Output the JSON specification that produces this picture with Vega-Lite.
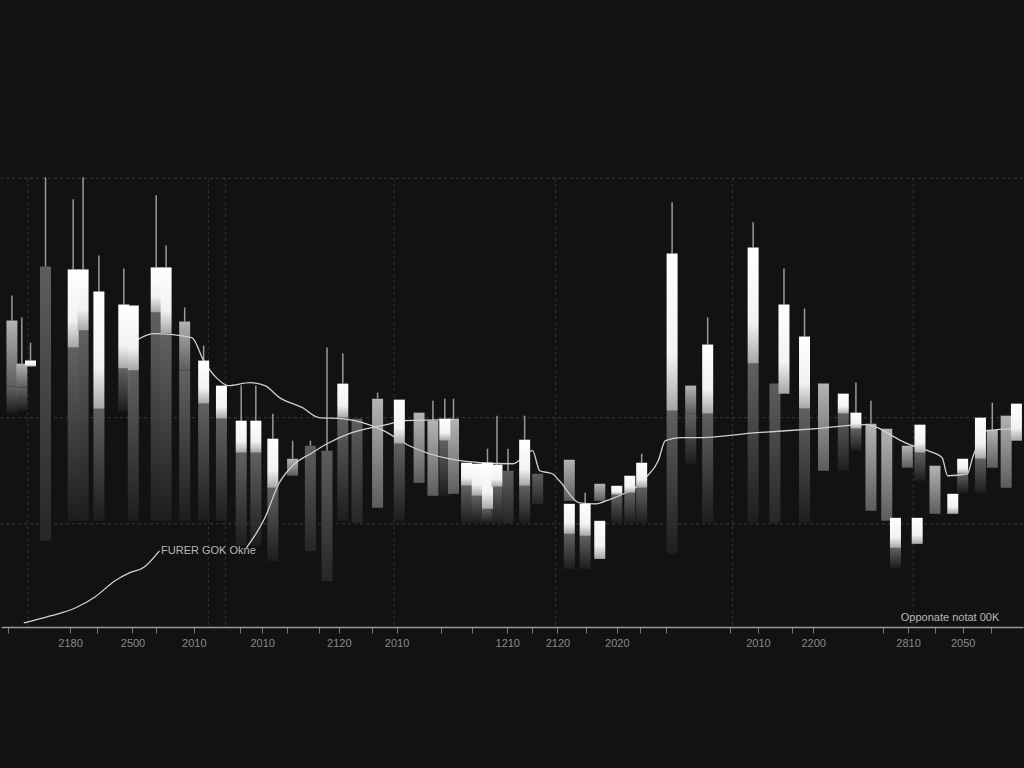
{
  "$schema": "https://vega.github.io/schema/vega-lite/v6.json",
  "autosize": {"type": "fit", "contains": "padding"},
  "width": 1024,
  "height": 768,
  "padding": {"left": 0, "right": 0, "top": 0, "bottom": 120},
  "background": "#121212",
  "config": {"view": {"stroke": null}, "font": "Liberation Sans"},
  "datasets": {
    "candles": [
      {"t": 0.75, "top": 153, "bot": 120, "high": 165.5, "ext": 107, "tone": "g"},
      {"t": 2, "top": 131.5, "bot": 119.5, "high": 154.5, "ext": 108, "tone": "g"},
      {"t": 3.1, "top": 133, "bot": 130, "high": 142, "ext": null, "tone": "w"},
      {"t": 5, "top": 180, "bot": 43, "high": 224.5, "ext": null, "tone": "m"},
      {"t": 8.5, "top": 178.5, "bot": 139.5, "high": 213.5, "ext": 53, "tone": "w"},
      {"t": 9.75, "top": 178.5, "bot": 148, "high": 224.5, "ext": 53, "tone": "w"},
      {"t": 11.75, "top": 167.5, "bot": 109, "high": 185.5, "ext": 53, "tone": "w"},
      {"t": 14.9, "top": 161, "bot": 129, "high": 179, "ext": 108, "tone": "w"},
      {"t": 16.1, "top": 160.5, "bot": 128, "high": null, "ext": 53, "tone": "w"},
      {"t": 19, "top": 179.5, "bot": 157, "high": 215.5, "ext": 53, "tone": "w"},
      {"t": 20.25, "top": 179.5, "bot": 146.5, "high": 190.5, "ext": 53, "tone": "w"},
      {"t": 22.6, "top": 152.5, "bot": 128, "high": 159.5, "ext": 53, "tone": "g"},
      {"t": 25, "top": 133, "bot": 111.5, "high": 140.5, "ext": 53, "tone": "w"},
      {"t": 27.25, "top": 120.5, "bot": 104, "high": null, "ext": 53, "tone": "w"},
      {"t": 29.75, "top": 103, "bot": 87, "high": 120.5, "ext": 40.5, "tone": "w"},
      {"t": 31.6, "top": 103, "bot": 87, "high": 120.5, "ext": 40.5, "tone": "w"},
      {"t": 33.75, "top": 94, "bot": 69.5, "high": 106.5, "ext": 33, "tone": "w"},
      {"t": 36.25, "top": 84, "bot": 75.5, "high": 93, "ext": null, "tone": "g"},
      {"t": 38.5, "top": 90.5, "bot": 38, "high": 93, "ext": null, "tone": "d"},
      {"t": 40.6, "top": 88, "bot": 23, "high": 139.5, "ext": null, "tone": "d"},
      {"t": 42.6, "top": 121.5, "bot": 104.5, "high": 136.5, "ext": 53, "tone": "w"},
      {"t": 44.4, "top": 104, "bot": 52, "high": null, "ext": null, "tone": "d"},
      {"t": 47, "top": 114, "bot": 59.5, "high": 117, "ext": null, "tone": "g"},
      {"t": 49.75, "top": 113.5, "bot": 91.5, "high": null, "ext": 53, "tone": "w"},
      {"t": 52.25, "top": 107, "bot": 72, "high": null, "ext": null, "tone": "g"},
      {"t": 54, "top": 103, "bot": 65.5, "high": 113, "ext": null, "tone": "g"},
      {"t": 55.5, "top": 104, "bot": 93, "high": 114, "ext": 65.5, "tone": "w"},
      {"t": 56.6, "top": 104, "bot": 66.5, "high": 114, "ext": null, "tone": "g"},
      {"t": 58.25, "top": 82, "bot": 70.5, "high": null, "ext": 52, "tone": "w"},
      {"t": 59.6, "top": 81.5, "bot": 65.5, "high": null, "ext": 52, "tone": "w"},
      {"t": 60.9, "top": 82, "bot": 59, "high": 89, "ext": 52, "tone": "w"},
      {"t": 62.1, "top": 81, "bot": 70, "high": 105.5, "ext": 52, "tone": "w"},
      {"t": 63.5, "top": 78, "bot": 52, "high": 89, "ext": null, "tone": "d"},
      {"t": 65.6, "top": 93.5, "bot": 70.5, "high": 105.5, "ext": 52, "tone": "w"},
      {"t": 67.25, "top": 76.5, "bot": 61.5, "high": null, "ext": null, "tone": "d"},
      {"t": 71.25, "top": 83.5, "bot": 63, "high": null, "ext": null, "tone": "g"},
      {"t": 71.25, "top": 61.5, "bot": 46.5, "high": null, "ext": 29, "tone": "w"},
      {"t": 73.25, "top": 61.5, "bot": 45.5, "high": 67, "ext": 29, "tone": "w"},
      {"t": 75.1, "top": 71.5, "bot": 63, "high": null, "ext": null, "tone": "g"},
      {"t": 75.1, "top": 53, "bot": 34, "high": null, "ext": null, "tone": "w"},
      {"t": 77.25, "top": 70.5, "bot": 66, "high": null, "ext": 52, "tone": "w"},
      {"t": 78.9, "top": 75.5, "bot": 67, "high": null, "ext": 52, "tone": "w"},
      {"t": 80.4, "top": 82, "bot": 69.5, "high": 86.5, "ext": 52, "tone": "w"},
      {"t": 84.25, "top": 186.5, "bot": 108, "high": 212, "ext": 36.5, "tone": "w"},
      {"t": 86.6, "top": 120.5, "bot": 106.5, "high": null, "ext": 81.5, "tone": "g"},
      {"t": 88.75, "top": 141, "bot": 106.5, "high": 154.5, "ext": 52, "tone": "w"},
      {"t": 94.5, "top": 189.5, "bot": 131.5, "high": 202, "ext": 52, "tone": "w"},
      {"t": 97.25, "top": 121.5, "bot": 52, "high": null, "ext": null, "tone": "d"},
      {"t": 98.4, "top": 161, "bot": 116.5, "high": 179, "ext": null, "tone": "w"},
      {"t": 101, "top": 145, "bot": 109, "high": 159, "ext": 52, "tone": "w"},
      {"t": 103.4, "top": 121.5, "bot": 78, "high": null, "ext": null, "tone": "g"},
      {"t": 105.9, "top": 116.5, "bot": 106.5, "high": null, "ext": 78, "tone": "w"},
      {"t": 107.5, "top": 107, "bot": 99, "high": 122, "ext": 88, "tone": "w"},
      {"t": 109.4, "top": 101.5, "bot": 58, "high": 113, "ext": null, "tone": "g"},
      {"t": 111.4, "top": 99, "bot": 53, "high": null, "ext": null, "tone": "g"},
      {"t": 112.5, "top": 54.5, "bot": 39.5, "high": null, "ext": 29.5, "tone": "w"},
      {"t": 114, "top": 90.5, "bot": 79.5, "high": null, "ext": null, "tone": "g"},
      {"t": 115.25, "top": 54.5, "bot": 41.5, "high": null, "ext": null, "tone": "w"},
      {"t": 115.6, "top": 101, "bot": 87, "high": null, "ext": 73, "tone": "w"},
      {"t": 117.5, "top": 80.5, "bot": 56.5, "high": null, "ext": null, "tone": "g"},
      {"t": 119.75, "top": 66.5, "bot": 56.5, "high": null, "ext": null, "tone": "w"},
      {"t": 121, "top": 84, "bot": 76.5, "high": null, "ext": 67, "tone": "w"},
      {"t": 123.25, "top": 104.5, "bot": 84, "high": null, "ext": 67, "tone": "w"},
      {"t": 124.75, "top": 98.5, "bot": 79.5, "high": 112, "ext": null, "tone": "g"},
      {"t": 126.5, "top": 105.5, "bot": 69.5, "high": null, "ext": null, "tone": "g"},
      {"t": 127.8, "top": 111.5, "bot": 93, "high": null, "ext": null, "tone": "w"}
    ],
    "ma": [
      {"s": "a", "t": 2.25, "v": 2}, {"s": "a", "t": 5.6, "v": 5.5}, {"s": "a", "t": 8.75, "v": 9.5},
      {"s": "a", "t": 11.25, "v": 15}, {"s": "a", "t": 13.75, "v": 23}, {"s": "a", "t": 15.6, "v": 27},
      {"s": "a", "t": 17.5, "v": 30}, {"s": "a", "t": 19.4, "v": 38},
      {"s": "b", "t": 30.4, "v": 39.5}, {"s": "b", "t": 32.75, "v": 54.5}, {"s": "b", "t": 34.5, "v": 71.5},
      {"s": "b", "t": 36.25, "v": 80.5}, {"s": "b", "t": 38.75, "v": 87}, {"s": "b", "t": 40.6, "v": 91.5},
      {"s": "b", "t": 43.75, "v": 97}, {"s": "b", "t": 48.1, "v": 101}, {"s": "b", "t": 50.4, "v": 103},
      {"s": "b", "t": 56.6, "v": 103.5},
      {"s": "c", "t": 15, "v": 138}, {"s": "c", "t": 16.9, "v": 144}, {"s": "c", "t": 18.75, "v": 146.5},
      {"s": "c", "t": 23.5, "v": 144.5}, {"s": "c", "t": 25, "v": 133}, {"s": "c", "t": 26.6, "v": 124.5},
      {"s": "c", "t": 28.1, "v": 120.5}, {"s": "c", "t": 30.9, "v": 122}, {"s": "c", "t": 32.75, "v": 120.5},
      {"s": "c", "t": 34.6, "v": 114.5}, {"s": "c", "t": 37.5, "v": 109.5}, {"s": "c", "t": 39.6, "v": 104.5},
      {"s": "c", "t": 42.5, "v": 104}, {"s": "c", "t": 47.75, "v": 98}, {"s": "c", "t": 51, "v": 90.5},
      {"s": "c", "t": 56, "v": 84}, {"s": "c", "t": 60, "v": 82}, {"s": "c", "t": 64.1, "v": 81.5},
      {"s": "c", "t": 66.6, "v": 88}, {"s": "c", "t": 67.5, "v": 78}, {"s": "c", "t": 69.1, "v": 76.5},
      {"s": "c", "t": 70, "v": 73}, {"s": "c", "t": 72.5, "v": 62}, {"s": "c", "t": 74.6, "v": 61.5},
      {"s": "c", "t": 76.25, "v": 63.5}, {"s": "c", "t": 78.4, "v": 67}, {"s": "c", "t": 79.6, "v": 69.5},
      {"s": "c", "t": 80.9, "v": 74.5}, {"s": "c", "t": 82.5, "v": 83}, {"s": "c", "t": 83.4, "v": 93},
      {"s": "c", "t": 85.4, "v": 94.5}, {"s": "c", "t": 87.25, "v": 94.5}, {"s": "c", "t": 95, "v": 97},
      {"s": "c", "t": 102.5, "v": 99}, {"s": "c", "t": 108.75, "v": 101}, {"s": "c", "t": 110.25, "v": 99.5},
      {"s": "c", "t": 112.5, "v": 94.5}, {"s": "c", "t": 114, "v": 91.5}, {"s": "c", "t": 116.6, "v": 88},
      {"s": "c", "t": 118.4, "v": 84.5}, {"s": "c", "t": 119.1, "v": 75.5}, {"s": "c", "t": 121.6, "v": 76.5},
      {"s": "c", "t": 122.25, "v": 84.5}, {"s": "c", "t": 124.1, "v": 98}, {"s": "c", "t": 128, "v": 99}
    ],
    "hgrid": [{"v": 224}, {"v": 104.5}, {"v": 51.5}],
    "vgrid": [{"t": 2.75}, {"t": 25.6}, {"t": 27.75}, {"t": 49.1}, {"t": 69.5}, {"t": 91.9}, {"t": 114.75}],
    "notes": [
      {"t": 25.6, "v": 38, "label": "FURER GOK Okne"},
      {"t": 119.4, "v": 4.5, "label": "Opponate notat 00K"}
    ]
  },
  "encoding": {
    "x": {
      "field": "t", "type": "quantitative",
      "scale": {"domain": [0, 128], "nice": false, "zero": false},
      "axis": {
        "title": null,
        "grid": false,
        "domainColor": "#9a9a9a",
        "domainWidth": 1.5,
        "tickColor": "#7a7a7a",
        "tickSize": 6,
        "labelColor": "#8a8a8a",
        "labelFontSize": 11,
        "labelPadding": 4,
        "labelFlush": false,
        "labelOverlap": false,
        "values": [0.25, 8.1, 11.5, 16, 19, 23.75, 29.6, 32.4, 35.6, 39.6, 42.1, 46.25, 49.4, 55, 59, 63.4, 66.5, 69.75, 73.4, 77.25, 80.25, 83.5, 91.6, 95.1, 99.4, 102.1, 110.9, 114.1, 117.5, 121, 124.6],
        "labelExpr": "indexof([8.1,16,23.75,32.4,42.1,49.4,63.4,69.75,77.25,95.1,102.1,114.1,121], datum.value) >= 0 ? ['2180','2500','2010','2010','2120','2010','1210','2120','2020','2010','2200','2810','2050'][indexof([8.1,16,23.75,32.4,42.1,49.4,63.4,69.75,77.25,95.1,102.1,114.1,121], datum.value)] : ''"
      }
    }
  },
  "layer": [
    {
      "data": {"name": "hgrid"},
      "mark": {"type": "rule", "color": "#3c3c3c", "strokeDash": [3, 3], "strokeWidth": 1},
      "encoding": {
        "x": null,
        "y": {"field": "v", "type": "quantitative", "scale": {"domain": [0, 313], "nice": false, "zero": false}, "axis": null}
      }
    },
    {
      "data": {"name": "vgrid"},
      "mark": {"type": "rule", "color": "#333333", "strokeDash": [3, 3], "strokeWidth": 1},
      "encoding": {
        "y": {"datum": 224, "type": "quantitative"},
        "y2": {"datum": 0}
      }
    },
    {
      "data": {"name": "candles"},
      "transform": [{"filter": "datum.ext != null"}],
      "mark": {"type": "bar", "width": 11, "clip": true, "opacity": 0.9,
        "color": {"gradient": "linear", "x1": 0, "y1": 0, "x2": 0, "y2": 1,
          "stops": [{"offset": 0, "color": "#6a6a6a"}, {"offset": 1, "color": "#1e1e1e"}]}},
      "encoding": {
        "y": {"field": "bot", "type": "quantitative"},
        "y2": {"field": "ext"}
      }
    },
    {
      "data": {"name": "candles"},
      "transform": [{"filter": "datum.tone == 'd' || datum.tone == 'm'"}],
      "mark": {"type": "bar", "width": 11, "clip": true,
        "color": {"gradient": "linear", "x1": 0, "y1": 0, "x2": 0, "y2": 1,
          "stops": [{"offset": 0, "color": "#5e5e5e"}, {"offset": 1, "color": "#262626"}]}},
      "encoding": {
        "y": {"field": "top", "type": "quantitative"},
        "y2": {"field": "bot"}
      }
    },
    {
      "data": {"name": "candles"},
      "transform": [{"filter": "datum.high != null"}],
      "mark": {"type": "rule", "color": "#9a9a9a", "strokeWidth": 1.5, "clip": true},
      "encoding": {
        "y": {"field": "high", "type": "quantitative"},
        "y2": {"field": "top"}
      }
    },
    {
      "data": {"name": "candles"},
      "transform": [{"filter": "datum.tone == 'g'"}],
      "mark": {"type": "bar", "width": 11, "clip": true,
        "color": {"gradient": "linear", "x1": 0, "y1": 0, "x2": 0, "y2": 1,
          "stops": [{"offset": 0, "color": "#b4b4b4"}, {"offset": 1, "color": "#5c5c5c"}]}},
      "encoding": {
        "y": {"field": "top", "type": "quantitative"},
        "y2": {"field": "bot"}
      }
    },
    {
      "data": {"name": "ma"},
      "mark": {"type": "line", "color": "#d0d0d0", "strokeWidth": 1.3, "interpolate": "monotone", "clip": true},
      "encoding": {
        "y": {"field": "v", "type": "quantitative"},
        "detail": {"field": "s"}
      }
    },
    {
      "data": {"name": "candles"},
      "transform": [{"filter": "datum.tone == 'w'"}],
      "mark": {"type": "bar", "width": 11, "clip": true,
        "color": {"gradient": "linear", "x1": 0, "y1": 0, "x2": 0, "y2": 1,
          "stops": [{"offset": 0, "color": "#ffffff"}, {"offset": 0.65, "color": "#f2f2f2"}, {"offset": 1, "color": "#a6a6a6"}]}},
      "encoding": {
        "y": {"field": "top", "type": "quantitative"},
        "y2": {"field": "bot"}
      }
    },
    {
      "data": {"name": "notes"},
      "mark": {"type": "text", "color": "#b8b8b8", "fontSize": 11, "align": "center", "baseline": "middle"},
      "encoding": {
        "y": {"field": "v", "type": "quantitative"},
        "text": {"field": "label"}
      }
    }
  ]
}
